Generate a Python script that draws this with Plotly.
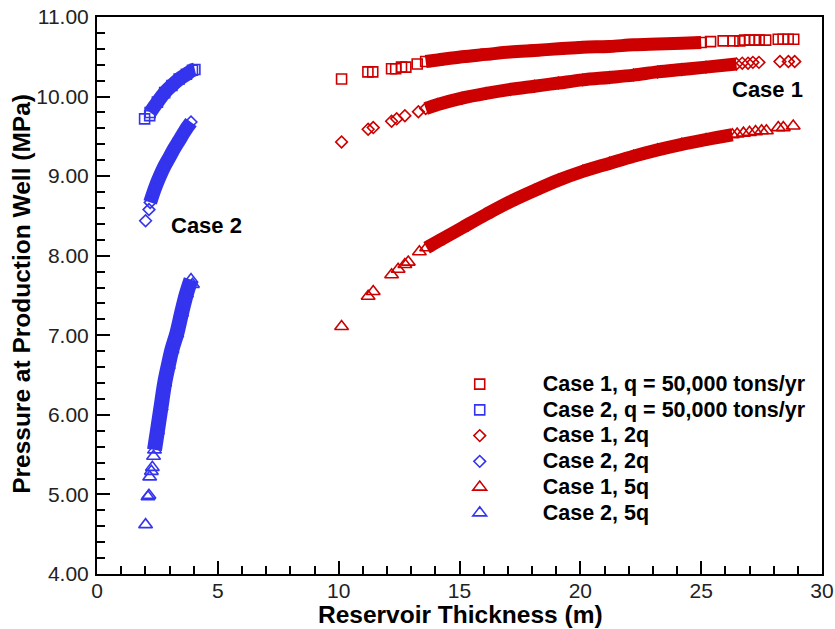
import plotly.graph_objects as go

# ---------------- data ----------------
# Case 1 (red), q
c1_q_x_pts = [10.12, 11.21, 11.41, 12.19, 12.36, 12.60, 12.78, 13.25,
              25.39, 25.91, 26.32, 26.60, 26.80, 27.00, 27.20, 27.40, 27.67,
              28.19, 28.39, 28.60, 28.83]
c1_q_y_pts = [10.22, 10.31, 10.31, 10.35, 10.35, 10.37, 10.37, 10.41,
              10.69, 10.70, 10.70, 10.70, 10.71, 10.71, 10.71, 10.71, 10.71,
              10.72, 10.72, 10.72, 10.72]
c1_q_x_band = [13.6, 14.1, 15.1, 16.1, 17.1, 18.1, 19.1, 20.1, 21.2, 22.2, 23.2, 24.2, 25.0]
c1_q_y_band = [10.44, 10.46, 10.50, 10.53, 10.56, 10.58, 10.60, 10.62, 10.63, 10.65, 10.66, 10.67, 10.68]

# Case 1, 2q
c1_2q_x_pts = [10.12, 11.22, 11.43, 12.19, 12.40, 12.74, 13.30,
               26.70, 26.94, 27.14, 27.39, 28.26, 28.61, 28.87]
c1_2q_y_pts = [9.43, 9.59, 9.61, 9.69, 9.72, 9.76, 9.81,
               10.42, 10.42, 10.43, 10.43, 10.44, 10.44, 10.44]
c1_2q_x_band = [13.6, 14.1, 15.1, 16.1, 17.1, 18.1, 19.1, 20.1, 21.2, 22.2, 23.2, 24.2, 25.2, 26.46]
c1_2q_y_band = [9.85, 9.90, 9.98, 10.04, 10.09, 10.13, 10.17, 10.21, 10.24, 10.27, 10.31, 10.34, 10.37, 10.41]

# Case 1, 5q
c1_5q_x_pts = [10.12, 11.22, 11.43, 12.19, 12.46, 12.74, 12.88, 13.34,
               26.49, 26.75, 27.00, 27.25, 27.50, 27.70, 28.19, 28.40, 28.81]
c1_5q_y_pts = [7.11, 7.49, 7.55, 7.76, 7.83, 7.89, 7.92, 8.05,
               9.53, 9.54, 9.55, 9.56, 9.57, 9.57, 9.61, 9.61, 9.63]
c1_5q_x_band = [13.64, 14.1, 15.1, 16.1, 17.1, 18.1, 19.1, 20.1, 21.2, 22.2, 23.2, 24.2, 25.2, 26.29]
c1_5q_y_band = [8.10, 8.18, 8.35, 8.52, 8.68, 8.82, 8.95, 9.06, 9.16, 9.25, 9.33, 9.40, 9.46, 9.52]

# Case 2 (blue), q
c2_q_x_pts = [1.97, 2.18]
c2_q_y_pts = [9.72, 9.76]
c2_q_x_band = [2.20, 2.5, 2.8, 3.1, 3.4, 3.7, 3.95, 4.05]
c2_q_y_band = [9.80, 9.93, 10.05, 10.14, 10.22, 10.28, 10.33, 10.34]

# Case 2, 2q
c2_2q_x_pts = [2.01, 2.15]
c2_2q_y_pts = [8.44, 8.58]
c2_2q_x_band = [2.20, 2.4, 2.6, 2.8, 3.0, 3.2, 3.4, 3.6, 3.75, 3.89]
c2_2q_y_band = [8.67, 8.85, 9.00, 9.13, 9.24, 9.35, 9.45, 9.55, 9.62, 9.68]

# Case 2, 5q
c2_5q_x_pts = [2.01, 2.11, 2.15, 2.18, 2.25, 2.29, 2.34, 3.95]
c2_5q_y_pts = [4.62, 4.97, 4.99, 5.22, 5.29, 5.34, 5.48, 7.64]
c2_5q_x_band = [2.38, 2.5, 2.65, 2.8, 2.95, 3.1, 3.3, 3.5, 3.7, 3.89]
c2_5q_y_band = [5.56, 5.80, 6.10, 6.40, 6.62, 6.82, 7.02, 7.28, 7.52, 7.70]

names = ["Case 1, q = 50,000 tons/yr", "Case 2, q = 50,000 tons/yr",
         "Case 1, 2q", "Case 2, 2q", "Case 1, 5q", "Case 2, 5q"]

x_ticks = [0, 5, 10, 15, 20, 25, 30]
y_ticks = [4, 5, 6, 7, 8, 9, 10, 11]

x_title = "Reservoir Thickness (m)"
y_title = "Pressure at Production Well (MPa)"

RED = "#cc0000"
BLUE = "#3434ee"
FONT = "Liberation Sans, Arial, sans-serif"

series = [
    (names[0], RED, "square-open", 10, 13, c1_q_x_pts, c1_q_y_pts, c1_q_x_band, c1_q_y_band),
    (names[1], BLUE, "square-open", 10, 14, c2_q_x_pts, c2_q_y_pts, c2_q_x_band, c2_q_y_band),
    (names[2], RED, "diamond-open", 9, 13, c1_2q_x_pts, c1_2q_y_pts, c1_2q_x_band, c1_2q_y_band),
    (names[3], BLUE, "diamond-open", 9, 14, c2_2q_x_pts, c2_2q_y_pts, c2_2q_x_band, c2_2q_y_band),
    (names[4], RED, "triangle-up-open", 12, 13, c1_5q_x_pts, c1_5q_y_pts, c1_5q_x_band, c1_5q_y_band),
    (names[5], BLUE, "triangle-up-open", 12, 15, c2_5q_x_pts, c2_5q_y_pts, c2_5q_x_band, c2_5q_y_band),
]

fig = go.Figure()

# dense bands (heavily overlapping markers in the original)
for name, col, sym, sz, bw, xp, yp, xb, yb in series:
    fig.add_trace(go.Scatter(
        x=xb, y=yb, mode="lines", line=dict(color=col, width=bw, shape="spline"),
        showlegend=False, hoverinfo="skip"))

# individual markers
for name, col, sym, sz, bw, xp, yp, xb, yb in series:
    fig.add_trace(go.Scatter(
        x=xp + xb, y=yp + yb, mode="markers",
        name=f"<span style='font-size:21.5px'>{name}</span>",
        marker=dict(symbol=sym, size=sz, color=col, line=dict(color=col, width=1.6))))

axis_common = dict(
    showline=True, linecolor="black", linewidth=2, mirror=True,
    ticks="inside", ticklen=13, tickwidth=2, tickcolor="black",
    showgrid=False, zeroline=False, automargin=False,
    tickfont=dict(family=FONT, size=21, color="#222222"),
)

fig.update_layout(
    width=835, height=629,
    margin=dict(l=97, r=13, t=17, b=55),
    plot_bgcolor="white", paper_bgcolor="white",
    xaxis=dict(range=[0, 30], tickvals=x_ticks, ticktext=[str(v) for v in x_ticks],
               ticklabeloverflow="allow", ticklabelstandoff=-3,
               minor=dict(ticks="inside", ticklen=8, tickwidth=2, tickcolor="black", dtick=1),
               **axis_common),
    yaxis=dict(range=[4, 11], tickvals=y_ticks, ticktext=[f"{v:.2f}" for v in y_ticks],
               ticklabelstandoff=2,
               minor=dict(ticks="inside", ticklen=8, tickwidth=2, tickcolor="black", dtick=0.2),
               **axis_common),
    legend=dict(x=0.441, y=0.373, xanchor="left", yanchor="top",
                bgcolor="rgba(0,0,0,0)", itemwidth=116, tracegroupgap=0,
                font=dict(family=FONT, size=17.5, color="black", weight="bold")),
    annotations=[
        dict(x=27.76, y=10.09, xref="x", yref="y", text="<b>Case 1</b>", showarrow=False,
             font=dict(family=FONT, size=22, color="black")),
        dict(x=4.55, y=8.38, xref="x", yref="y", text="<b>Case 2</b>", showarrow=False,
             font=dict(family=FONT, size=22, color="black")),
        # axis titles
        dict(x=0.502, y=-0.0725, xref="paper", yref="paper", text=f"<b>{x_title}</b>",
             showarrow=False, xanchor="center", yanchor="middle",
             font=dict(family=FONT, size=24.5, color="black")),
        dict(x=-0.1034, y=0.503, xref="paper", yref="paper", text=f"<b>{y_title}</b>",
             showarrow=False, xanchor="center", yanchor="middle", textangle=-90,
             font=dict(family=FONT, size=24.5, color="black")),
    ],
)

fig.write_html("out.html", config={"displayModeBar": False},
               post_script="document.body.style.margin='0';document.body.style.overflow='hidden';")
